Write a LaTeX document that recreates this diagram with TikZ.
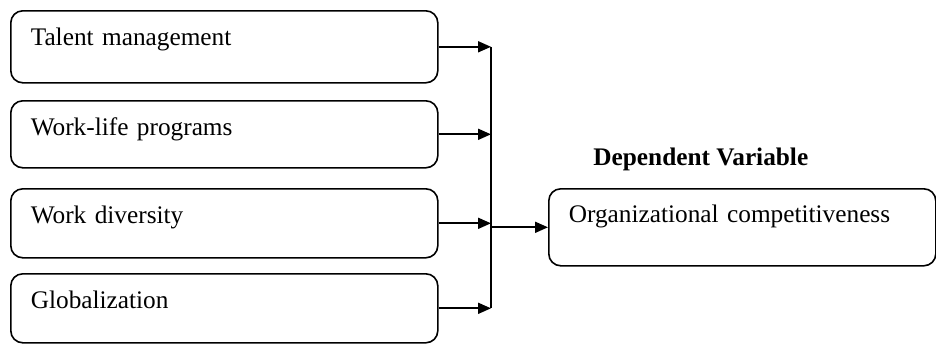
\documentclass[tikz,border=0pt]{standalone}
\usepackage{fontspec}
\setmainfont{Liberation Serif}
\usetikzlibrary{arrows.meta,calc}
\begin{document}
\begin{tikzpicture}[x=0.5pt,y=-0.5pt,
  box/.style={draw,line width=0.8pt,rounded corners=6pt,anchor=north west,
    inner xsep=10pt,inner ysep=0pt,text height=17.5pt,align=left,
    font=\fontsize{12.65}{15}\selectfont},
  arr/.style={line width=0.9pt,-{Triangle[length=6.5pt,width=5.5pt]}},
  lbl/.style={anchor=base west,inner sep=0pt,font=\fontsize{12.65}{15}\selectfont\bfseries}]
\useasboundingbox (0,0) rectangle (936,343);
\node[box,text width=193.5pt,text depth=18.5pt] (b1) at (10,10) {Talent management};
\node[box,text width=193.5pt,text depth=16pt] (b2) at (10,100) {Work-life programs};
\node[box,text width=193.5pt,text depth=17pt] (b3) at (10,188) {Work diversity};
\node[box,text width=193.5pt,text depth=17pt] (b4) at (10,273) {Globalization};
\node[box,text width=173.5pt,text height=17pt,text depth=21.5pt] (out) at (548,188) {Organizational competitiveness};
\node[lbl] (dv) at (593,165) {Dependent Variable};
\coordinate (j) at (491,0);
\draw[arr] (b1.east) -- (b1.east -| j);
\draw[arr] (b2.east) -- (b2.east -| j);
\draw[arr] (b3.east) -- (b3.east -| j);
\draw[arr] (b4.east) -- (b4.east -| j);
\draw[line width=0.8pt] (b1.east -| j) -- (b4.east -| j);
\draw[arr] (j |- out.west) -- (out.west);
\end{tikzpicture}
\end{document}
